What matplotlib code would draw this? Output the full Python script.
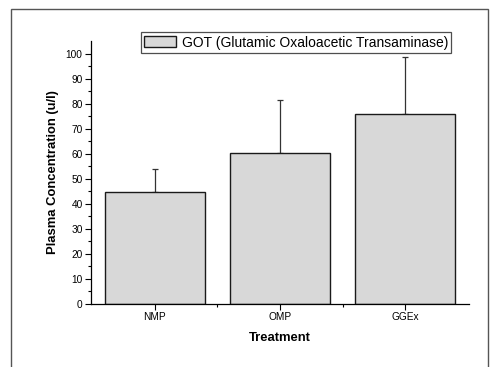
import numpy as np
import matplotlib
matplotlib.use('Agg')
import matplotlib.pyplot as plt
from matplotlib.patches import Rectangle

plt.rcParams['font.family'] = ['Liberation Sans', 'DejaVu Sans']

treatments = ['NMP', 'OMP', 'GGEx']
got_mean = [44.6, 60.3, 75.8]
got_err = [9.2, 21.2, 22.7]
legend_label = 'GOT (Glutamic Oxaloacetic Transaminase)'

fig = plt.figure(figsize=(4.97, 3.67), dpi=100)
ax = fig.add_axes([0.183, 0.172, 0.761, 0.716])

x = np.arange(1, len(treatments) + 1)
ax.bar(x, got_mean, width=0.8, color='#d8d8d8', edgecolor='#1a1a1a',
       linewidth=1.0, label=legend_label, zorder=2)
ax.errorbar(x, got_mean, yerr=[np.zeros(len(x)), got_err], fmt='none',
            ecolor='#333333', elinewidth=0.9, capsize=2.0, capthick=0.9, zorder=1)

ax.set_xlim(0.49, 3.51)
ax.set_ylim(0, 105)
ax.set_yticks(np.arange(0, 101, 10))
ax.set_yticks(np.arange(5, 101, 10), minor=True)
ax.set_xticks(x)
ax.set_xticks([1.5, 2.5], minor=True)
ax.set_xticklabels(treatments)
ax.tick_params(axis='both', which='major', labelsize=7.3, length=4, width=0.8, direction='out', pad=2)
ax.tick_params(axis='both', which='minor', length=2, width=0.8, direction='out')

for s in ['top', 'right']:
    ax.spines[s].set_visible(False)
for s in ['left', 'bottom']:
    ax.spines[s].set_linewidth(0.9)

ax.set_xlabel('Treatment', fontsize=9.4, fontweight='bold', labelpad=7)
ax.set_ylabel('Plasma Concentration (u/l)', fontsize=9.4, fontweight='bold', labelpad=5)

leg = ax.legend(loc='center', bbox_to_anchor=(0.5956, 0.884), bbox_transform=fig.transFigure,
                fontsize=10, frameon=True, fancybox=False, borderpad=0.25,
                handlelength=2.3, handleheight=0.8, handletextpad=0.4, borderaxespad=0)
leg.get_frame().set_edgecolor('#222222')
leg.get_frame().set_linewidth(0.9)

# outer frame around the figure
fig.patches.append(Rectangle((0.022, -0.02), 0.96, 0.995, transform=fig.transFigure,
                             fill=False, edgecolor='#555555', linewidth=1.0))

fig.savefig('out.png', dpi=100)
